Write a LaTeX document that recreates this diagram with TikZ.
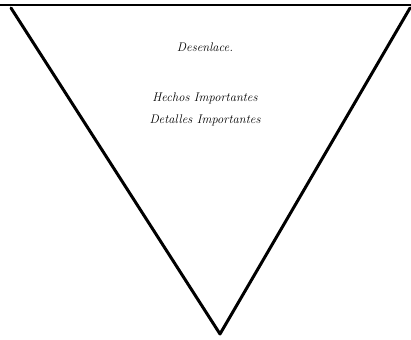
\documentclass[tikz,border=0pt]{standalone}
\usepackage{tikz}
\usetikzlibrary{positioning}

\begin{document}
\begin{tikzpicture}[
    x=1pt, y=-1pt,
    edge/.style={line width=3pt, line join=round, line cap=round},
    label/.style={font=\itshape\fontsize{12.5}{14}\selectfont, inner sep=0pt, anchor=base}
  ]
    \useasboundingbox (0,0) rectangle (411,339);
    \coordinate (tl) at (11,8);
    \coordinate (tr) at (410,8);
    \coordinate (bot) at (220,334);
    \coordinate (rl) at (0,5);
    \coordinate (rr) at (411,5);
    \draw[line width=2.5pt] (rl) -- (rr);
    \draw[edge] (tl) -- (bot) -- (tr);
    \node[label] (den) at (205,52) {Desenlace.};
    \node[label] (hech) at (205,102) {Hechos Importantes};
    \node[label, below=22pt of hech.base, anchor=base] (det) {Detalles Importantes};
  \end{tikzpicture}
\end{document}
